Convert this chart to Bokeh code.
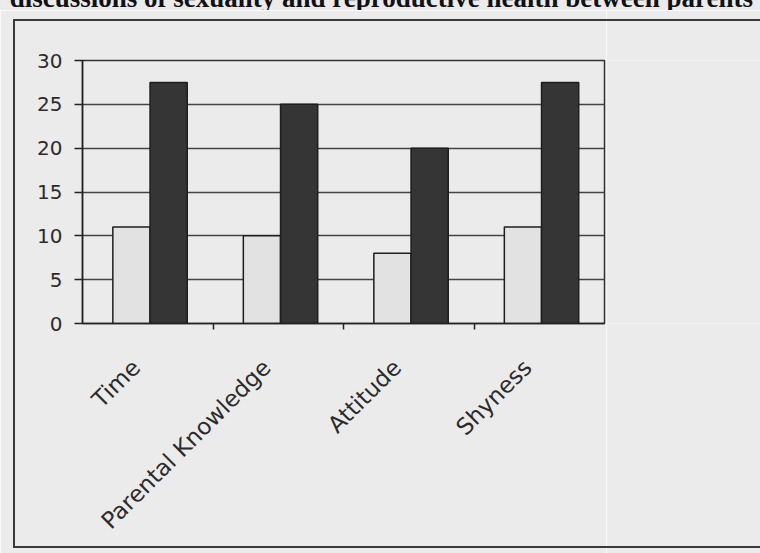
from math import pi

from bokeh.embed import file_html
from bokeh.layouts import column, row
from bokeh.models import (ColumnDataSource, Div, FixedTicker, Grid, Legend,
                          LegendItem, LinearAxis, Range1d)
from bokeh.plotting import figure
from bokeh.resources import INLINE

# ---- data -------------------------------------------------------------
categories = ["Time", "Parental Knowledge", "Attitude", "Shyness"]
number = [11, 10, 8, 11]
percent = [27.5, 25, 20, 27.5]
y_ticks = [0, 5, 10, 15, 20, 25, 30]
series_names = ["Number", "%"]
heading = "r discussions of sexuality and reproductive health between parents"

# ---- styling ------------------------------------------------------------
FONT = "DejaVu Sans"
INK = "#2b2b2b"
PAPER = "#ebebeb"
BAR_W = 0.285
STRIP_H = 10          # height of the cropped heading strip on top
CHART_H = 553 - STRIP_H
MAIN_W = 606          # chart part; the legend column takes the rest
NUM_STYLE = dict(fill_color="#e2e2e2", line_color="#1e1e1e", line_width=1.5)
PCT_STYLE = dict(fill_color="#353535", line_color="#1e1e1e", line_width=1.5)

n = len(categories)
centers = [i + 0.5 for i in range(n)]

# heading line of the page, only its lower part shows in the strip
head = Div(
    text=(f'<span style="position:absolute; right:7px; top:-15px; '
          f'white-space:nowrap; font-family:\'Liberation Serif\'; '
          f'font-weight:bold; font-size:27px; line-height:27px; '
          f'color:#111111;">{heading}</span>'),
    width=760, height=STRIP_H, margin=0,
    styles={"position": "relative", "overflow": "hidden",
            "background-color": PAPER},
)

# thin frame drawn around the whole chart block
box_css = """
:host { position: relative; }
:host::after {
  content: ""; position: absolute; pointer-events: none; z-index: 10;
  left: 13px; top: 19px; width: 747px; height: 529px;
  box-sizing: border-box;
  border: 2px solid #3a3a3a; border-right: none;
}
"""

p = figure(
    width=MAIN_W, height=CHART_H,
    output_backend="svg", toolbar_location=None,
    x_range=Range1d(0, n), y_range=Range1d(0, 30),
    x_axis_type=None, y_axis_type=None,
    min_border_left=82, min_border_right=2,
    min_border_top=50, min_border_bottom=230,
    margin=0,
)
p.border_fill_color = PAPER
p.background_fill_color = PAPER
p.outline_line_color = "#333333"
p.outline_line_width = 1.5

src = ColumnDataSource(dict(
    x_num=[c - 0.125 for c in centers],
    x_pct=[c + 0.16 for c in centers],
    number=number, percent=percent,
))

# value axis with horizontal gridlines
yaxis = LinearAxis(
    ticker=FixedTicker(ticks=y_ticks),
    major_label_text_font=FONT, major_label_text_font_size="20px",
    major_label_text_color=INK, major_label_standoff=12,
    major_tick_out=8, major_tick_in=0, major_tick_line_width=1.5,
    major_tick_line_color="#222222", minor_tick_line_color=None,
    axis_line_color="#222222", axis_line_width=1.5,
)
p.add_layout(yaxis, "left")
p.add_layout(Grid(dimension=1, ticker=yaxis.ticker,
                  grid_line_color="#444444", grid_line_width=1.5))

# bars
p.vbar(x="x_num", top="number", width=BAR_W, source=src, **NUM_STYLE)
p.vbar(x="x_pct", top="percent", width=BAR_W, source=src, **PCT_STYLE)

# category boundary ticks on the bottom axis line
bounds = list(range(1, n))
tick_axis = LinearAxis(
    ticker=FixedTicker(ticks=bounds),
    major_label_overrides={b: "" for b in bounds},
    major_label_standoff=0, major_label_text_font_size="1px",
    major_tick_out=6, major_tick_in=0, major_tick_line_width=1.5,
    major_tick_line_color="#222222", minor_tick_line_color=None,
    axis_line_color="#222222", axis_line_width=1.5,
)
p.add_layout(tick_axis, "below")

# rotated category labels, their ends sitting just left of each group centre
label_pos = [c - 0.09 for c in centers]
cat_axis = LinearAxis(
    ticker=FixedTicker(ticks=label_pos),
    major_label_overrides={x: name for x, name in zip(label_pos, categories)},
    major_label_orientation=pi / 4,
    major_label_text_font=FONT, major_label_text_font_size="23px",
    major_label_text_color=INK, major_label_standoff=28,
    major_tick_line_color=None, minor_tick_line_color=None,
    axis_line_color=None,
)
p.add_layout(cat_axis, "below")

# legend column to the right of the plot area
lf = figure(
    width=760 - MAIN_W, height=CHART_H,
    output_backend="svg", toolbar_location=None,
    x_range=Range1d(0, 1), y_range=Range1d(0, 1),
    x_axis_type=None, y_axis_type=None,
    min_border=0, margin=0,
)
lf.border_fill_color = PAPER
lf.background_fill_color = PAPER
lf.outline_line_color = None
key_num = lf.vbar(x=[], top=[], width=0.1, **NUM_STYLE)
key_pct = lf.vbar(x=[], top=[], width=0.1, **PCT_STYLE)

legend = Legend(
    items=[LegendItem(label=series_names[0], renderers=[key_num]),
           LegendItem(label=series_names[1], renderers=[key_pct])],
    location=(20, 320), margin=0, padding=10, spacing=12,
    glyph_width=12, glyph_height=12, label_standoff=12, label_height=26,
    label_text_font=FONT, label_text_font_size="22px",
    label_text_color=INK,
    border_line_color="#333333", border_line_width=1.5,
    background_fill_alpha=0,
)
lf.add_layout(legend)

page = column(head, row(p, lf, spacing=0), spacing=0,
              stylesheets=[box_css])
open("out.html", "w").write(file_html(page, INLINE))
